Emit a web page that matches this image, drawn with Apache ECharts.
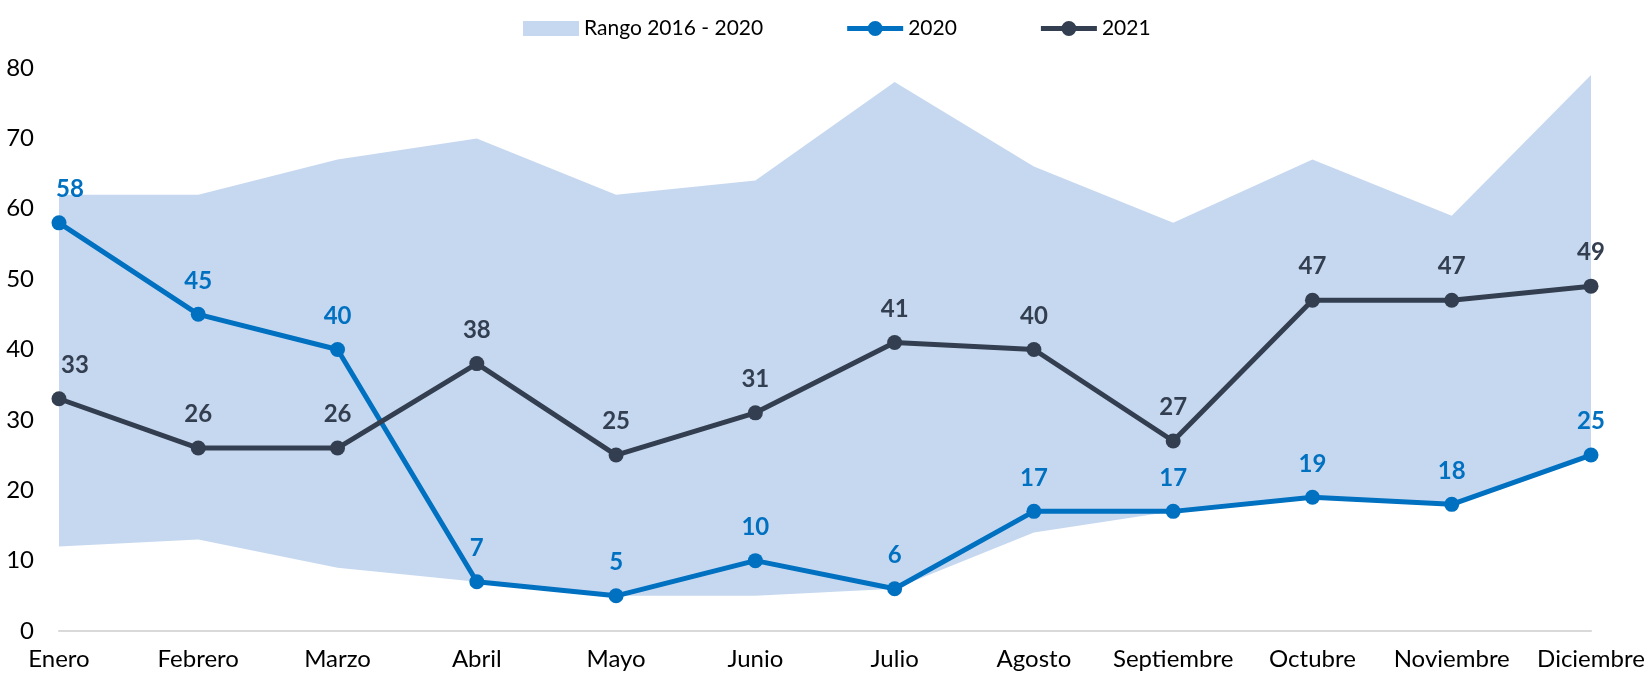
<!DOCTYPE html>
<html>
<head>
<meta charset="utf-8">
<title>Rango 2016 - 2020</title>
<script src="https://cdn.jsdelivr.net/npm/echarts@6/dist/echarts.min.js"></script>
<style>
  html, body { margin: 0; padding: 0; background: #ffffff; }
  #chart { width: 1650px; height: 678px; }
</style>
</head>
<body>
<div id="chart"></div>
<script>
// datos
var meses = ['Enero', 'Febrero', 'Marzo', 'Abril', 'Mayo', 'Junio', 'Julio', 'Agosto', 'Septiembre', 'Octubre', 'Noviembre', 'Diciembre'];
var rangoMin = [12, 13, 9, 7, 5, 5, 6, 14, 17, 19, 18, 25];
var rangoMax = [62, 62, 67, 70, 62, 64, 78, 66, 58, 67, 59, 79];
var serie2020 = [58, 45, 40, 7, 5, 10, 6, 17, 17, 19, 18, 25];
var serie2021 = [33, 26, 26, 38, 25, 31, 41, 40, 27, 47, 47, 49];
var ticksY = [0, 10, 20, 30, 40, 50, 60, 70, 80];

var colorRango = '#C6D8F0',
    color2020 = '#0070C0',
    color2021 = '#333F50',
    fuente = 'Lato, "Liberation Sans", sans-serif';

// icono de leyenda: linea gruesa con circulo al centro
var iconoLinea = 'path://M0,5H56V10H0Z M20.5,7.5A7.5,7.5 0 1,1 35.5,7.5A7.5,7.5 0 1,1 20.5,7.5Z';

// alto de la banda = max - min (se apila sobre el minimo)
var rangoAlto = rangoMax.map(function (v, i) { return v - rangoMin[i]; });

// la primera etiqueta va un poco a la derecha, como en el original
function conEtiqueta(arr, dx) {
    return arr.map(function (v, i) {
        if (i === 0) return { value: v, label: { offset: [dx, 0] } };
        return v;
    });
}

function serieLinea(nombre, datos, color, dx) {
    return {
        name: nombre,
        type: 'line',
        data: conEtiqueta(datos, dx),
        symbol: 'circle',
        symbolSize: 15,
        z: 3,
        lineStyle: { width: 5, color: color },
        itemStyle: { color: color },
        label: {
            show: true,
            position: 'top',
            distance: 14,
            color: color,
            fontFamily: fuente,
            fontWeight: 'bold',
            fontSize: 24
        }
    };
}

var chart = echarts.init(document.getElementById('chart'));
chart.setOption({
    animation: false,
    textStyle: { fontFamily: fuente },
    legend: {
        top: 13,
        left: 518,
        itemGap: 84,
        itemWidth: 56,
        itemHeight: 15,
        textStyle: { fontFamily: fuente, fontSize: 21, color: '#000000' },
        data: [
            { name: 'Rango 2016 - 2020', icon: 'rect', itemStyle: { color: colorRango } },
            { name: '2020', icon: iconoLinea, itemStyle: { color: color2020 } },
            { name: '2021', icon: iconoLinea, itemStyle: { color: color2021 } }
        ]
    },
    grid: { left: 59, right: 59, top: 68, bottom: 47, containLabel: false },
    xAxis: {
        type: 'category',
        boundaryGap: false,
        data: meses,
        axisLine: { lineStyle: { color: '#D9D9D9', width: 2 } },
        axisTick: { show: false },
        axisLabel: { color: '#000000', fontSize: 24, margin: 16, interval: 0 }
    },
    yAxis: {
        type: 'value',
        min: ticksY[0],
        max: ticksY[ticksY.length - 1],
        interval: 10,
        splitLine: { show: false },
        axisLine: { show: false },
        axisTick: { show: false },
        axisLabel: { color: '#000000', fontSize: 24, margin: 25 }
    },
    series: [
        {
            name: 'base',
            type: 'line',
            stack: 'rango',
            data: rangoMin,
            symbol: 'none',
            silent: true,
            lineStyle: { width: 0, opacity: 0 },
            z: 1
        },
        {
            name: 'Rango 2016 - 2020',
            type: 'line',
            stack: 'rango',
            data: rangoAlto,
            symbol: 'none',
            silent: true,
            itemStyle: { color: colorRango },
            lineStyle: { width: 0, opacity: 0 },
            areaStyle: { color: colorRango, opacity: 1 },
            z: 1
        },
        serieLinea('2020', serie2020, color2020, 11),
        serieLinea('2021', serie2021, color2021, 16)
    ]
});
</script>
</body>
</html>
